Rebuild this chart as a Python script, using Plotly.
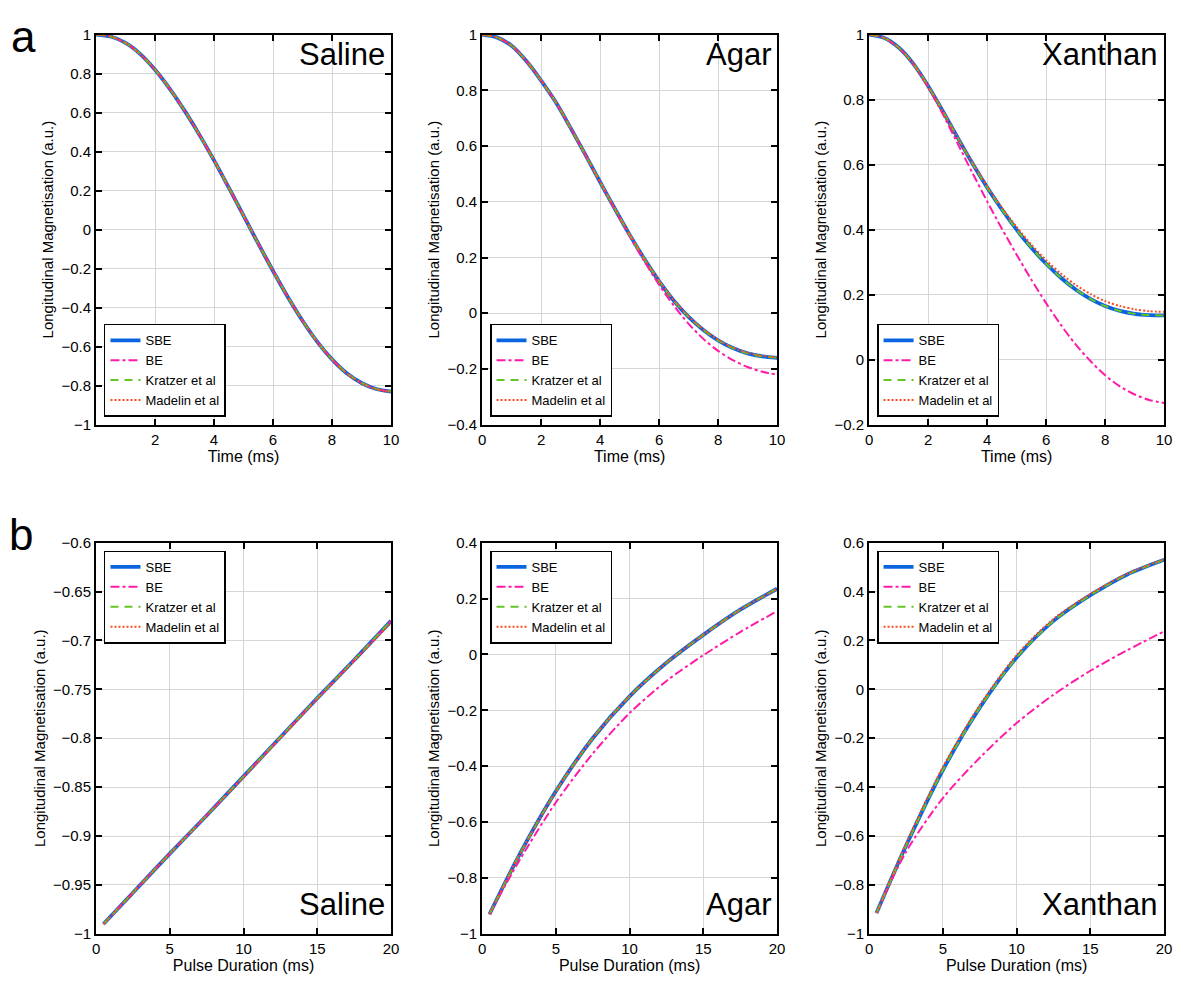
import plotly.graph_objects as go

W, H = 1183, 987

# ---------------- data ----------------
time_ms = [0, 0.5, 1, 1.5, 2, 2.5, 3, 3.5, 4, 4.5, 5, 5.5, 6, 6.5, 7, 7.5, 8, 8.5, 9, 9.5, 10]
pulse_ms = [0.5, 2.5, 5, 7.5, 10, 12.5, 15, 17.5, 20]

# Row a: longitudinal magnetisation during the pulse
saline_a_sbe = [1.0, 0.99, 0.957, 0.90, 0.82, 0.722, 0.61, 0.487, 0.355, 0.215, 0.072,
                -0.072, -0.212, -0.345, -0.467, -0.575, -0.665, -0.736, -0.786, -0.817, -0.83]
saline_a_be = [1.0, 0.99, 0.957, 0.90, 0.82, 0.722, 0.61, 0.487, 0.355, 0.215, 0.072,
               -0.072, -0.212, -0.345, -0.467, -0.575, -0.665, -0.736, -0.786, -0.817, -0.83]
saline_a_kratzer = [1.0, 0.99, 0.957, 0.90, 0.82, 0.722, 0.61, 0.487, 0.355, 0.215, 0.072,
                    -0.072, -0.212, -0.345, -0.467, -0.575, -0.665, -0.736, -0.786, -0.817, -0.83]
saline_a_madelin = [1.0, 0.99, 0.957, 0.90, 0.82, 0.722, 0.61, 0.487, 0.355, 0.215, 0.072,
                    -0.072, -0.212, -0.345, -0.467, -0.576, -0.666, -0.737, -0.787, -0.818, -0.832]

agar_a_sbe = [1.0, 0.99, 0.96, 0.905, 0.835, 0.757, 0.665, 0.569, 0.471, 0.375, 0.282,
              0.195, 0.115, 0.045, -0.013, -0.06, -0.097, -0.125, -0.144, -0.155, -0.16]
agar_a_be = [1.0, 0.99, 0.96, 0.905, 0.835, 0.757, 0.665, 0.569, 0.471, 0.372, 0.276,
             0.186, 0.102, 0.027, -0.038, -0.092, -0.135, -0.168, -0.193, -0.21, -0.22]
agar_a_kratzer = [1.0, 0.99, 0.96, 0.905, 0.835, 0.757, 0.665, 0.569, 0.471, 0.375, 0.282,
                  0.195, 0.115, 0.045, -0.013, -0.06, -0.097, -0.125, -0.144, -0.155, -0.16]
agar_a_madelin = [1.0, 0.99, 0.96, 0.905, 0.835, 0.757, 0.665, 0.569, 0.471, 0.376, 0.284,
                  0.197, 0.117, 0.047, -0.011, -0.058, -0.095, -0.123, -0.142, -0.153, -0.158]

xanthan_a_sbe = [1.0, 0.99, 0.96, 0.91, 0.842, 0.764, 0.683, 0.604, 0.53, 0.462, 0.40,
                 0.344, 0.295, 0.252, 0.216, 0.187, 0.165, 0.15, 0.141, 0.137, 0.136]
xanthan_a_be = [1.0, 0.99, 0.96, 0.908, 0.838, 0.755, 0.665, 0.575, 0.487, 0.403, 0.323,
                0.246, 0.174, 0.107, 0.047, -0.004, -0.048, -0.082, -0.107, -0.124, -0.133]
xanthan_a_kratzer = [1.0, 0.99, 0.96, 0.91, 0.842, 0.764, 0.683, 0.604, 0.53, 0.462, 0.40,
                     0.344, 0.295, 0.252, 0.216, 0.187, 0.165, 0.15, 0.141, 0.137, 0.136]
xanthan_a_madelin = [1.0, 0.99, 0.96, 0.91, 0.842, 0.764, 0.683, 0.606, 0.534, 0.468, 0.408,
                     0.354, 0.306, 0.265, 0.23, 0.202, 0.18, 0.165, 0.155, 0.149, 0.147]

# Row b: final longitudinal magnetisation versus pulse duration
saline_b_sbe = [-0.99, -0.958, -0.918, -0.879, -0.839, -0.799, -0.759, -0.72, -0.68]
saline_b_be = [-0.99, -0.958, -0.918, -0.879, -0.839, -0.799, -0.759, -0.72, -0.68]
saline_b_kratzer = [-0.99, -0.958, -0.918, -0.879, -0.839, -0.799, -0.759, -0.72, -0.68]
saline_b_madelin = [-0.99, -0.958, -0.918, -0.879, -0.840, -0.800, -0.760, -0.721, -0.682]

agar_b_sbe = [-0.93, -0.72, -0.49, -0.30, -0.15, -0.03, 0.07, 0.16, 0.235]
agar_b_be = [-0.93, -0.74, -0.53, -0.355, -0.21, -0.095, -0.003, 0.08, 0.155]
agar_b_kratzer = [-0.93, -0.72, -0.49, -0.30, -0.15, -0.03, 0.07, 0.16, 0.235]
agar_b_madelin = [-0.93, -0.72, -0.49, -0.30, -0.15, -0.03, 0.07, 0.16, 0.235]

xanthan_b_sbe = [-0.915, -0.64, -0.33, -0.075, 0.13, 0.28, 0.385, 0.47, 0.53]
xanthan_b_be = [-0.915, -0.665, -0.445, -0.28, -0.138, -0.022, 0.076, 0.16, 0.237]
xanthan_b_kratzer = [-0.915, -0.64, -0.33, -0.075, 0.13, 0.28, 0.385, 0.47, 0.53]
xanthan_b_madelin = [-0.915, -0.632, -0.318, -0.065, 0.14, 0.288, 0.39, 0.473, 0.532]

series_names = ["SBE", "BE", "Kratzer et al", "Madelin et al"]
sample_names = ["Saline", "Agar", "Xanthan"]

row_a = [
    [saline_a_sbe, saline_a_be, saline_a_kratzer, saline_a_madelin],
    [agar_a_sbe, agar_a_be, agar_a_kratzer, agar_a_madelin],
    [xanthan_a_sbe, xanthan_a_be, xanthan_a_kratzer, xanthan_a_madelin],
]
row_b = [
    [saline_b_sbe, saline_b_be, saline_b_kratzer, saline_b_madelin],
    [agar_b_sbe, agar_b_be, agar_b_kratzer, agar_b_madelin],
    [xanthan_b_sbe, xanthan_b_be, xanthan_b_kratzer, xanthan_b_madelin],
]

a_yranges = [[-1, 1], [-0.4, 1], [-0.2, 1]]
a_ydticks = [0.2, 0.2, 0.2]
b_yranges = [[-1, -0.6], [-1, 0.4], [-1, 0.6]]
b_ydticks = [0.05, 0.2, 0.2]

# ---------------- styling ----------------
FONT = "Liberation Sans, Arial, Helvetica, sans-serif"
styles = [
    dict(color="#0a64e0", width=3.8, dash="solid"),
    dict(color="#ff1aa8", width=2, dash="dashdot"),
    dict(color="#66c424", width=2, dash="8px,6px"),
    dict(color="#ff4a1e", width=2, dash="2px,2px"),
]

# panel geometry in pixels
col_px = [(93, 391), (483, 781), (874, 1172)]
row_px = [(26, 423), (543, 941)]  # top, bottom


def xdom(c):
    return [col_px[c][0] / W, col_px[c][1] / W]


def ydom(r):
    t, b = row_px[r]
    return [(H - b) / H, (H - t) / H]


fig = go.Figure()
layout = dict(
    width=W, height=H,
    margin=dict(l=0, r=0, t=0, b=0),
    paper_bgcolor="white", plot_bgcolor="white",
    font=dict(family=FONT, size=15, color="black"),
    showlegend=True,
)

annotations = []
panel = 0
for r in range(2):
    for c in range(3):
        panel += 1
        xa = "x" if panel == 1 else f"x{panel}"
        ya = "y" if panel == 1 else f"y{panel}"
        lg = "legend" if panel == 1 else f"legend{panel}"
        xs = time_ms if r == 0 else pulse_ms
        data = row_a[c] if r == 0 else row_b[c]
        for k in range(4):
            fig.add_trace(go.Scatter(
                x=xs, y=data[k], mode="lines", name=series_names[k],
                line=dict(shape="spline", smoothing=0.8, **styles[k]),
                xaxis=xa, yaxis=ya, legend=lg, showlegend=True,
                hoverinfo="skip",
            ))
        axis_common = dict(
            showline=True, linecolor="black", linewidth=2, mirror="ticks",
            ticks="inside", ticklen=6, tickwidth=1.5, tickcolor="black",
            showgrid=True, gridcolor="#d6d6d6", gridwidth=1, zeroline=False,
            tickfont=dict(size=15, family=FONT),
        )
        if r == 0:
            xaxis = dict(axis_common, range=[0, 10], dtick=2, tick0=0,
                         title=dict(text="Time (ms)", font=dict(size=16), standoff=3))
            if c == 0:
                xaxis["tickvals"] = [2, 4, 6, 8, 10]
            yaxis = dict(axis_common, range=a_yranges[c], dtick=a_ydticks[c], tick0=0)
        else:
            xaxis = dict(axis_common, range=[0, 20], dtick=5, tick0=0,
                         title=dict(text="Pulse Duration (ms)", font=dict(size=16), standoff=3))
            yaxis = dict(axis_common, range=b_yranges[c], dtick=b_ydticks[c], tick0=0)
        yaxis["title"] = dict(text="Longitudinal Magnetisation (a.u.)", font=dict(size=15), standoff=4)
        xaxis.update(domain=xdom(c), anchor=ya)
        yaxis.update(domain=ydom(r), anchor=xa)
        layout["xaxis" if panel == 1 else f"xaxis{panel}"] = xaxis
        layout["yaxis" if panel == 1 else f"yaxis{panel}"] = yaxis

        # legend placement
        lx = (col_px[c][0] + 8) / W
        if r == 0:
            ly = (H - row_px[r][1] + 8) / H
            yanch = "bottom"
        else:
            ly = (H - row_px[r][0] - 8) / H
            yanch = "top"
        layout[lg] = dict(
            x=lx, y=ly, xanchor="left", yanchor=yanch,
            bgcolor="white", bordercolor="black", borderwidth=1.5,
            font=dict(size=13, family=FONT), tracegroupgap=0,
            itemwidth=30, traceorder="normal",
        )

        # sample name
        if r == 0:
            annotations.append(dict(
                text=sample_names[c], xref=f"{xa} domain", yref=f"{ya} domain",
                x=0.985, y=1.0, xanchor="right", yanchor="top", showarrow=False,
                font=dict(size=31, family=FONT, color="black")))
        else:
            annotations.append(dict(
                text=sample_names[c], xref=f"{xa} domain", yref=f"{ya} domain",
                x=0.985, y=0.025, xanchor="right", yanchor="bottom", showarrow=False,
                font=dict(size=31, family=FONT, color="black")))

annotations.append(dict(text="a", xref="paper", yref="paper", x=5 / W, y=1 - 1 / H,
                        xanchor="left", yanchor="top", showarrow=False,
                        font=dict(size=44, family=FONT)))
annotations.append(dict(text="b", xref="paper", yref="paper", x=3 / W, y=1 - 508 / H,
                        xanchor="left", yanchor="top", showarrow=False,
                        font=dict(size=44, family=FONT)))
layout["annotations"] = annotations

fig.update_layout(**layout)
fig.write_html(
    "out.html",
    config={"displayModeBar": False},
    post_script="document.body.style.margin='0';document.body.style.padding='0';"
                "document.body.style.overflow='hidden';",
)
